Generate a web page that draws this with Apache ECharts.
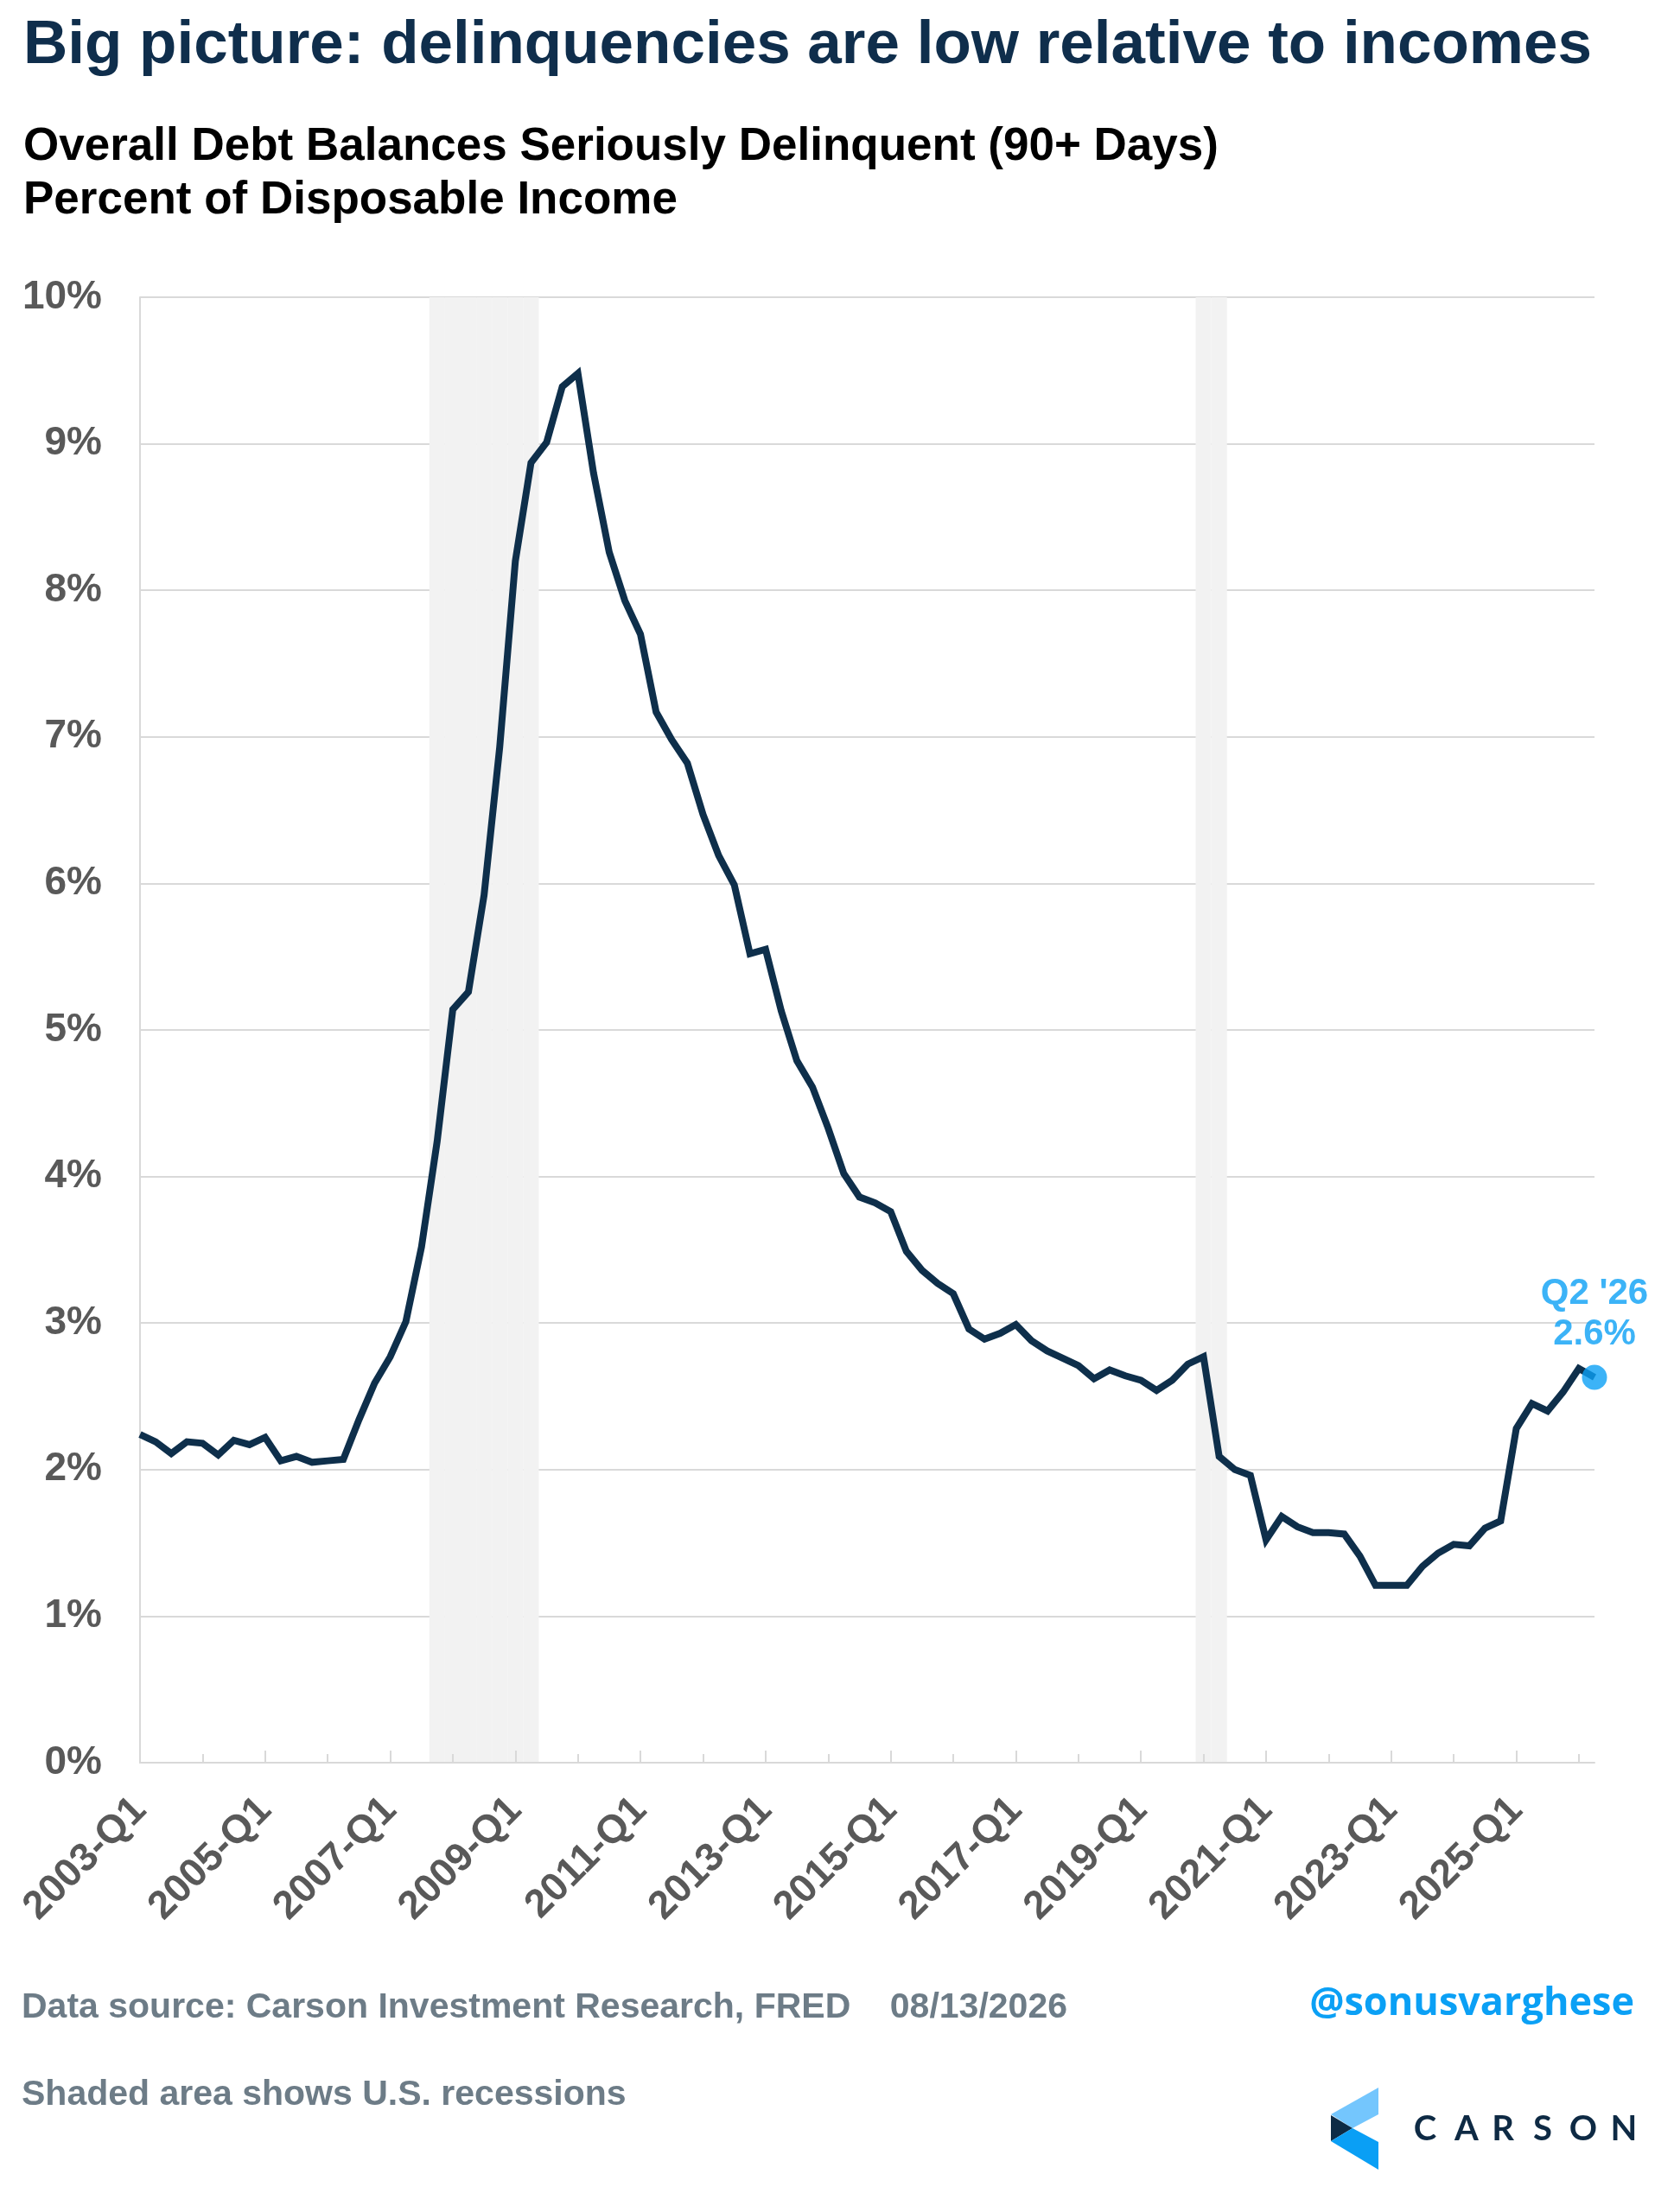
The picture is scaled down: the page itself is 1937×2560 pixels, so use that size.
<!DOCTYPE html>
<html>
<head>
<meta charset="utf-8">
<title>Delinquencies relative to incomes</title>
<script src="https://cdn.jsdelivr.net/npm/echarts@6/dist/echarts.min.js"></script>
<style>
  html, body { margin: 0; padding: 0; background: #fff; }
  #chart { width: 1937px; height: 2560px; }
</style>
</head>
<body>
<div id="chart"></div>
<script>
// quarterly labels 2003-Q1 .. 2026-Q2
const quarters = []
for (let y = 2003; y <= 2026; y++) {
  for (let q = 1; q <= 4; q++) {
    if (y === 2026 && q > 2) break
    quarters.push(y + '-Q' + q)
  }
}

// seriously delinquent (90+ days) balances, % of disposable income
const delinqPct = [
  2.24, 2.19, 2.11, 2.19, 2.18, 2.10, 2.20, 2.17,   // 2003-2004
  2.22, 2.06, 2.09, 2.05, 2.06, 2.07, 2.34, 2.59,   // 2005-2006
  2.77, 3.01, 3.52, 4.24, 5.14, 5.26, 5.92, 6.93,   // 2007-2008
  8.20, 8.87, 9.01, 9.39, 9.48, 8.80, 8.26, 7.93,   // 2009-2010
  7.70, 7.17, 6.98, 6.82, 6.47, 6.19, 5.99, 5.52,   // 2011-2012
  5.55, 5.13, 4.79, 4.61, 4.33, 4.02, 3.86, 3.82,   // 2013-2014
  3.76, 3.49, 3.36, 3.27, 3.20, 2.96, 2.89, 2.93,   // 2015-2016
  2.99, 2.88, 2.81, 2.76, 2.71, 2.62, 2.68, 2.64,   // 2017-2018
  2.61, 2.54, 2.61, 2.72, 2.77, 2.09, 2.00, 1.96,   // 2019-2020
  1.52, 1.68, 1.61, 1.57, 1.57, 1.56, 1.41, 1.21,   // 2021-2022
  1.21, 1.21, 1.34, 1.43, 1.49, 1.48, 1.60, 1.65,   // 2023-2024
  2.28, 2.45, 2.40, 2.53, 2.69, 2.63                // 2025-2026Q2
]

// NBER recessions (shaded)
const recessionQuarters = [
  '2007-Q4', '2008-Q1', '2008-Q2', '2008-Q3', '2008-Q4', '2009-Q1', '2009-Q2',
  '2020-Q1', '2020-Q2'
]

const yTicks = [0, 10, 1]          // min, max, step
const lastNote = ["Q2 '26", '2.6%']

const FONT = "'Liberation Sans', Arial, sans-serif"
const NAVY = '#0e2f4b'
const BLUE = '#0ba0f5'
const GRID = '#d9d9d9'
const TICK_GREY = '#595959'
const FOOT_GREY = '#6d7c87'

const last = delinqPct.length - 1
const recessionBars = quarters.map(q => recessionQuarters.includes(q) ? yTicks[1] : '-')
const lastPoint = quarters.map((q, i) => i === last ? delinqPct[i] : '-')

const chart = echarts.init(document.getElementById('chart'), null, { renderer: 'canvas' })

chart.setOption({
  backgroundColor: '#fff',
  animation: false,
  grid: { left: 162, right: 92, top: 344, bottom: 520, containLabel: false },
  xAxis: [
    {
      type: 'category',
      data: quarters,
      boundaryGap: false,
      position: 'bottom',
      z: 3,
      axisLine: { show: true, lineStyle: { color: GRID, width: 2 } },
      axisTick: { show: true, inside: true, interval: 7, length: 14, lineStyle: { color: GRID, width: 2 } },
      axisLabel: {
        interval: 7, rotate: 45, margin: 48,
        color: TICK_GREY, fontFamily: FONT, fontWeight: 'bold', fontSize: 46
      },
      splitLine: { show: false }
    },
    {
      // minor yearly ticks
      type: 'category',
      data: quarters,
      boundaryGap: false,
      position: 'bottom',
      z: 3,
      axisLine: { show: false },
      axisTick: { show: true, inside: true, interval: 3, length: 10, lineStyle: { color: GRID, width: 2 } },
      axisLabel: { show: false },
      splitLine: { show: false }
    }
  ],
  yAxis: {
    type: 'value',
    min: yTicks[0], max: yTicks[1], interval: yTicks[2],
    axisLine: { show: true, lineStyle: { color: GRID, width: 2 } },
    axisTick: { show: false },
    axisLabel: {
      formatter: '{value}%', margin: 44,
      color: TICK_GREY, fontFamily: FONT, fontWeight: 'bold', fontSize: 46
    },
    splitLine: { show: true, lineStyle: { color: GRID, width: 2 } }
  },
  series: [
    {
      name: 'Recession',
      type: 'bar',
      data: recessionBars,
      barWidth: '100%',
      itemStyle: { color: '#f2f2f2' },
      silent: true,
      z: 1
    },
    {
      name: 'Delinquent % of disposable income',
      type: 'line',
      data: delinqPct,
      showSymbol: false,
      lineStyle: { color: NAVY, width: 8, join: 'miter' },
      z: 5
    },
    {
      name: 'Latest',
      type: 'scatter',
      data: lastPoint,
      symbolSize: 29,
      itemStyle: { color: BLUE },
      label: {
        show: true, position: 'top', distance: 12,
        formatter: lastNote.join('\n'),
        color: BLUE, fontFamily: FONT, fontWeight: 'bold', fontSize: 42, lineHeight: 47,
        align: 'center'
      },
      z: 6
    }
  ],
  graphic: [
    {
      type: 'text', x: 27, y: 53,
      style: { text: 'Big picture: delinquencies are low relative to incomes', fill: '#0f2e4c',
        font: 'bold 71px ' + FONT, verticalAlign: 'middle', align: 'left' }
    },
    {
      type: 'text', x: 27, y: 170,
      style: { text: 'Overall Debt Balances Seriously Delinquent (90+ Days)', fill: '#000',
        font: 'bold 53px ' + FONT, verticalAlign: 'middle', align: 'left' }
    },
    {
      type: 'text', x: 27, y: 232,
      style: { text: 'Percent of Disposable Income', fill: '#000',
        font: 'bold 53px ' + FONT, verticalAlign: 'middle', align: 'left' }
    },
    {
      type: 'text', x: 25, y: 2324,
      style: { text: 'Data source: Carson Investment Research, FRED    08/13/2026', fill: FOOT_GREY,
        font: 'bold 41px ' + FONT, verticalAlign: 'middle', align: 'left' }
    },
    {
      type: 'text', x: 25, y: 2425,
      style: { text: 'Shaded area shows U.S. recessions', fill: FOOT_GREY,
        font: 'bold 41px ' + FONT, verticalAlign: 'middle', align: 'left' }
    },
    {
      type: 'text', x: 1891, y: 2319,
      style: { text: '@sonusvarghese', fill: BLUE,
        font: "bold 45px 'Open Sans', sans-serif", verticalAlign: 'middle', align: 'right' }
    },
    // Carson logo mark
    {
      type: 'polygon',
      shape: { points: [[1540, 2447], [1595, 2416], [1595, 2447], [1565, 2463]] },
      style: { fill: '#74c6fd' }
    },
    {
      type: 'polygon',
      shape: { points: [[1540, 2448], [1565, 2463], [1540, 2478]] },
      style: { fill: '#0d2b45' }
    },
    {
      type: 'polygon',
      shape: { points: [[1540, 2478], [1565, 2463], [1595, 2479], [1595, 2511]] },
      style: { fill: '#0a9ff5' }
    },
    ...['C', 'A', 'R', 'S', 'O', 'N'].map((ch, i) => ({
      type: 'text',
      x: [1649, 1697, 1739, 1785, 1832, 1879][i], y: 2464,
      style: { text: ch, fill: '#0e2a44', font: "bold 40px Lato, 'Open Sans', sans-serif",
        verticalAlign: 'middle', align: 'center' }
    }))
  ]
})
</script>
</body>
</html>
